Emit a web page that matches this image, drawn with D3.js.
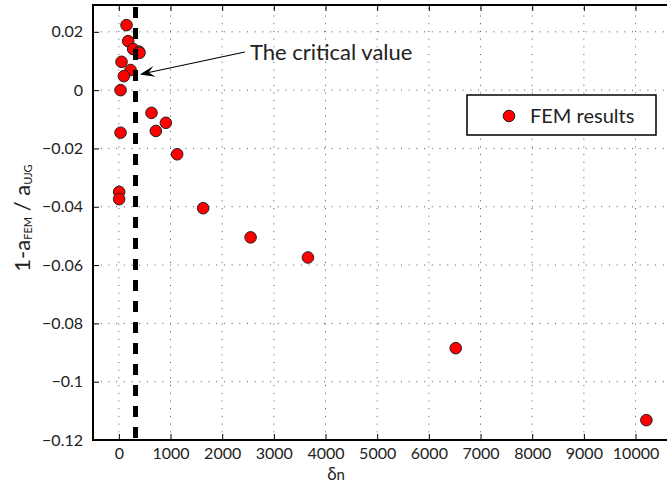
<!DOCTYPE html>
<html>
<head>
<meta charset="utf-8">
<script src="https://cdn.jsdelivr.net/npm/d3@7"></script>
<style>
  body { margin: 0; background: #fff; }
  text { font-family: Lato, "Open Sans", sans-serif; fill: #222; }
</style>
</head>
<body>
<div id="chart-area"></div>
<script>
// FEM results
const deltaN = [149, 181, 277, 390, 400, 52, 226, 97, 33, 632, 910, 716, 33, 1129, 6, 6, 1632, 2550, 3660, 6520, 10210]
const ratio = [0.0223, 0.0168, 0.0141, 0.0132, 0.0128, 0.0097, 0.0069, 0.0048, 0, -0.0078, -0.0112, -0.014, -0.0146, -0.022, -0.0349, -0.0374, -0.0405, -0.0505, -0.0574, -0.0885, -0.1132]

const xTicks = [0, 1000, 2000, 3000, 4000, 5000, 6000, 7000, 8000, 9000, 10000]
const yTicks = [-0.12, -0.1, -0.08, -0.06, -0.04, -0.02, 0, 0.02]

// critical value annotation (data units)
const criticalValue = 323
const arrowTip = [406, 0.0054]
const arrowTail = [2440, 0.0131]
const noteText = "The critical value"

const W = 667, H = 484
const MARGIN = { LEFT: 93, TOP: 5, BOTTOM: 44 }

const svg = d3.select("#chart-area").append("svg")
  .attr("width", W)
  .attr("height", H)

const x = d3.scaleLinear()
  .domain([-500, 10700])
  .range([MARGIN.LEFT, 671.7])

const y = d3.scaleLinear()
  .domain([-0.12, 0.0292])
  .range([H - MARGIN.BOTTOM, MARGIN.TOP])

const x0 = x.range()[0], x1 = x.range()[1]
const y0 = y.range()[0], y1 = y.range()[1]

// dotted grid
const grid = svg.append("g")
grid.selectAll(".gx").data(xTicks).enter().append("line")
  .attr("x1", d => x(d)).attr("x2", d => x(d))
  .attr("y1", y0).attr("y2", y1)
  .attr("stroke", "#555").attr("stroke-width", 1)
  .attr("stroke-dasharray", "1,6.7")
grid.selectAll(".gy").data(yTicks).enter().append("line")
  .attr("y1", d => y(d)).attr("y2", d => y(d))
  .attr("x1", x0).attr("x2", x1)
  .attr("stroke", "#555").attr("stroke-width", 1)
  .attr("stroke-dasharray", "1,6.7")

// axes
const xAxisCall = d3.axisBottom(x)
  .tickValues(xTicks)
  .tickFormat(d3.format("d"))
  .tickSizeInner(-6).tickSizeOuter(0).tickPadding(8)
const xAxis = svg.append("g")
  .attr("transform", `translate(0, ${y0})`)
  .call(xAxisCall)

const xTopCall = d3.axisTop(x)
  .tickValues(xTicks).tickFormat("")
  .tickSizeInner(-6).tickSizeOuter(0)
const xTop = svg.append("g")
  .attr("transform", `translate(0, ${y1})`)
  .call(xTopCall)

const yAxisCall = d3.axisLeft(y)
  .tickValues(yTicks)
  .tickFormat(d => d === 0 ? "0" : d3.format("")(+d.toFixed(2)).replace("-", "\u2212"))
  .tickSizeInner(-6).tickSizeOuter(0).tickPadding(10)
const yAxis = svg.append("g")
  .attr("transform", `translate(${x0}, 0)`)
  .call(yAxisCall)

for (const a of [xAxis, xTop, yAxis]) {
  a.select(".domain").remove()
  a.selectAll(".tick line").attr("stroke", "#000").attr("stroke-width", 1)
  a.selectAll("text").attr("font-size", "16px").attr("font-family", "Lato").attr("fill", "#222")
}

// frame
svg.append("path")
  .attr("d", `M${x1},${y1}H${x0}V${y0}H${x1}`)
  .attr("fill", "none")
  .attr("stroke", "#000")
  .attr("stroke-width", 2)

// points
svg.append("g").selectAll("circle")
  .data(deltaN.map((d, i) => ({ dn: d, r: ratio[i] })))
  .enter().append("circle")
  .attr("cx", d => x(d.dn))
  .attr("cy", d => y(d.r))
  .attr("r", 5.8)
  .attr("fill", "#f00")
  .attr("stroke", "#222")
  .attr("stroke-width", 1)

// critical value line
svg.append("line")
  .attr("x1", x(criticalValue)).attr("x2", x(criticalValue))
  .attr("y1", y1 + 2).attr("y2", y0)
  .attr("stroke", "#000")
  .attr("stroke-width", 5)
  .attr("stroke-dasharray", "11,10")

// arrow + note
const tip = [x(arrowTip[0]), y(arrowTip[1])]
const tail = [x(arrowTail[0]), y(arrowTail[1])]
const len = Math.hypot(tail[0] - tip[0], tail[1] - tip[1])
const u = [(tail[0] - tip[0]) / len, (tail[1] - tip[1]) / len]
const n = [-u[1], u[0]]
const hl = 15, hw = 5.5, notch = 9
svg.append("line")
  .attr("x1", tail[0]).attr("y1", tail[1])
  .attr("x2", tip[0] + u[0] * notch).attr("y2", tip[1] + u[1] * notch)
  .attr("stroke", "#000").attr("stroke-width", 1.1)
svg.append("path")
  .attr("d", `M${tip[0]},${tip[1]}`
    + `L${tip[0] + u[0] * hl + n[0] * hw},${tip[1] + u[1] * hl + n[1] * hw}`
    + `L${tip[0] + u[0] * notch},${tip[1] + u[1] * notch}`
    + `L${tip[0] + u[0] * hl - n[0] * hw},${tip[1] + u[1] * hl - n[1] * hw}Z`)
  .attr("fill", "#000")

svg.append("text")
  .attr("x", tail[0] + 5)
  .attr("y", tail[1])
  .attr("dy", "0.35em")
  .attr("font-size", "22px")
  .text(noteText)

// legend
const legend = svg.append("g").attr("transform", "translate(467, 95)")
legend.append("rect")
  .attr("width", 189).attr("height", 40)
  .attr("fill", "#fff").attr("stroke", "#000").attr("stroke-width", 1.5)
legend.append("circle")
  .attr("cx", 42).attr("cy", 21).attr("r", 5.8)
  .attr("fill", "#f00").attr("stroke", "#222")
legend.append("text")
  .attr("x", 63).attr("y", 21).attr("dy", "0.35em")
  .attr("font-size", "20px")
  .text("FEM results")

// axis labels
const yl = svg.append("text")
  .attr("transform", "translate(30, 218) rotate(-90)")
  .attr("text-anchor", "middle")
  .attr("font-size", "22px")
yl.append("tspan").text("1-a")
yl.append("tspan").attr("font-size", "11px").attr("dy", 2).text("FEM")
yl.append("tspan").attr("dy", -2).text(" / a")
yl.append("tspan").attr("font-size", "11px").attr("dy", 2).text("UJG")

const xl = svg.append("text")
  .attr("x", 336).attr("y", 480)
  .attr("text-anchor", "middle")
  .attr("font-size", "17px")
xl.append("tspan").text("δ")
xl.append("tspan").attr("font-size", "15px").text("n")
</script>
</body>
</html>
